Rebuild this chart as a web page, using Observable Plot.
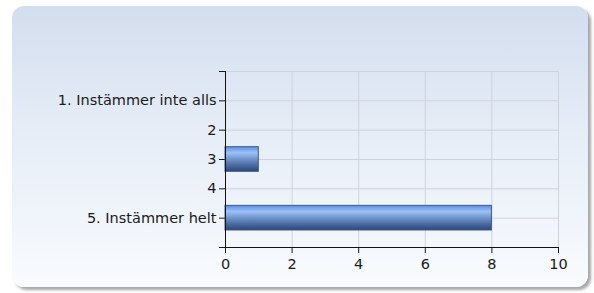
<!DOCTYPE html>
<html>
<head>
<meta charset="utf-8">
<script src="https://cdn.jsdelivr.net/npm/d3@7"></script>
<script src="https://cdn.jsdelivr.net/npm/@observablehq/plot@0.6"></script>
<style>
  html, body { margin: 0; padding: 0; background: #ffffff; }
  #wrap { position: relative; width: 594px; height: 293px; overflow: hidden; }
  #panel {
    position: absolute; left: 12px; top: 6px; width: 576px; height: 281px;
    border-radius: 12px;
    background: linear-gradient(to bottom, #d3deee 0%, #e6edf7 45%, #f9fbfe 100%);
    box-shadow: 3px 3px 3px rgba(0,0,0,0.35);
  }
  #chart { position: absolute; left: 0; top: 0; }
  #chart svg { background: transparent; font-family: "DejaVu Sans", Verdana, sans-serif; }
</style>
</head>
<body>
<div id="wrap">
  <div id="panel"></div>
  <div id="chart"></div>
</div>
<script>
const categories = ["1. Instämmer inte alls", "2", "3", "4", "5. Instämmer helt"];
const values = [0, 0, 1, 0, 8];
const xTicks = [0, 2, 4, 6, 8, 10];

const data = categories.map((c, i) => ({category: c, pos: i + 1, value: values[i]}));
const yMax = categories.length + 1;
const yTicks = d3.range(0, yMax + 1);
const half = 0.42;

const chart = Plot.plot({
  width: 594,
  height: 293,
  marginLeft: 225,
  marginRight: 36,
  marginTop: 71,
  marginBottom: 46,
  style: {background: "transparent", fontSize: "14.5px", fontFamily: "DejaVu Sans, Verdana, sans-serif", color: "#1a1a1a"},
  x: {domain: [0, 10], ticks: xTicks, tickSize: 6, tickPadding: 5, label: null, grid: false},
  y: {domain: [0, yMax], reverse: true, ticks: yTicks, tickSize: 6, tickPadding: 3,
      tickFormat: t => categories[t - 1] ?? "", label: null},
  marks: [
    Plot.gridX(xTicks, {stroke: "#cdd3dc", strokeOpacity: 1, y1: 0, y2: yMax}),
    Plot.gridY(yTicks, {stroke: "#cdd3dc", strokeOpacity: 1, x1: 0, x2: 10}),
    Plot.rect(data.filter(d => d.value > 0), {
      x1: 0, x2: "value",
      y1: d => d.pos - half, y2: d => d.pos + half,
      fill: "url(#barGrad)", stroke: "#3d5a85", strokeWidth: 1
    }),
    Plot.ruleX([0], {stroke: "#111", y1: 0, y2: yMax}),
    Plot.ruleY([yMax], {stroke: "#111", x1: 0, x2: 10})
  ]
});

const svg = d3.select(chart);
const defs = svg.insert("defs", ":first-child");
const g = defs.append("linearGradient").attr("id", "barGrad").attr("x1", 0).attr("y1", 0).attr("x2", 0).attr("y2", 1);
[[0, "#5a8de4"], [0.25, "#9dc1f6"], [0.5, "#7095cc"], [0.8, "#44649a"], [1, "#2a4676"]].forEach(([o, c]) =>
  g.append("stop").attr("offset", o).attr("stop-color", c));

document.getElementById("chart").appendChild(chart);
</script>
</body>
</html>
